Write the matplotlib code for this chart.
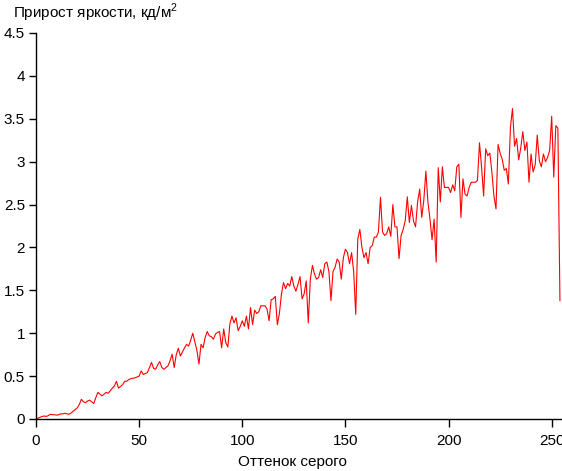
import numpy as np
import matplotlib
matplotlib.use("Agg")
import matplotlib.pyplot as plt

plt.rcParams["font.family"] = ["Liberation Sans", "DejaVu Sans"]
plt.rcParams["font.size"] = 11
plt.rcParams["mathtext.fontset"] = "custom"
plt.rcParams["mathtext.rm"] = "Liberation Sans"

# brightness increment for each gray level
gray = np.arange(0, 255)
increment = [
    0.0, 0.01, 0.02, 0.03, 0.035, 0.03, 0.04, 0.055, 0.05, 0.05,
    0.045, 0.05, 0.06, 0.06, 0.067, 0.06, 0.055, 0.07, 0.09, 0.11,
    0.13, 0.17, 0.23, 0.2, 0.19, 0.21, 0.22, 0.2, 0.18, 0.25,
    0.31, 0.29, 0.27, 0.29, 0.31, 0.3, 0.33, 0.36, 0.385, 0.44,
    0.36, 0.38, 0.4, 0.44, 0.44, 0.46, 0.47, 0.475, 0.48, 0.49,
    0.5, 0.56, 0.52, 0.53, 0.54, 0.6, 0.66, 0.59, 0.58, 0.63,
    0.67, 0.6, 0.58, 0.6, 0.62, 0.68, 0.755, 0.6, 0.75, 0.825,
    0.735, 0.78, 0.83, 0.87, 0.85, 0.92, 1.0, 0.9, 0.8, 0.64,
    0.87, 0.83, 0.95, 1.02, 0.97, 0.96, 0.93, 0.99, 1.01, 1.02,
    0.83, 1.05, 0.89, 0.84, 1.11, 1.2, 1.12, 1.18, 1.03, 1.08,
    1.145, 1.08, 1.2, 1.05, 1.3, 1.1, 1.27, 1.23, 1.25, 1.32,
    1.32, 1.32, 1.28, 1.145, 1.39, 1.4, 1.43, 1.1, 1.23, 1.46,
    1.59, 1.52, 1.58, 1.55, 1.66, 1.55, 1.49, 1.57, 1.66, 1.4,
    1.46, 1.61, 1.12, 1.63, 1.79, 1.69, 1.63, 1.65, 1.74, 1.65,
    1.81, 1.83, 1.72, 1.38, 1.72, 1.77, 1.865, 1.83, 1.63, 1.88,
    1.98, 1.94, 1.81, 1.94, 1.72, 1.22, 2.1, 2.21, 2.0, 1.88,
    1.94, 1.81, 2.0, 2.02, 2.12, 2.12, 2.18, 2.585, 2.18, 2.14,
    2.16, 2.24, 2.13, 2.5, 2.24, 2.24, 1.87, 2.14, 2.21, 2.31,
    2.59, 2.29, 2.49, 2.31, 2.24, 2.53, 2.68, 2.35, 2.55, 2.89,
    2.53, 2.33, 2.09, 2.33, 1.83, 2.93, 2.53, 2.94, 2.7, 2.7,
    2.7, 2.64, 2.73, 2.66, 2.94, 2.97, 2.35, 2.8, 2.62, 2.6,
    2.7, 2.76, 2.76, 2.76, 2.78, 3.22, 2.94, 2.6, 3.15, 3.07,
    3.1, 2.88, 2.6, 2.45, 3.2, 3.1, 3.03, 2.9, 2.92, 2.74,
    3.4, 3.62, 3.18, 3.27, 3.02, 3.16, 3.35, 3.13, 3.23, 2.76,
    3.09, 2.88, 2.96, 3.31, 3.01, 2.94, 3.09, 3.0, 3.05, 3.13,
    3.53, 2.82, 3.42, 3.39, 1.38,
]

x_ticks = [0, 50, 100, 150, 200, 250]
y_ticks = [0, 0.5, 1, 1.5, 2, 2.5, 3, 3.5, 4, 4.5]
y_labels = ["0", "0.5", "1", "1.5", "2", "2.5", "3", "3.5", "4", "4.5"]

fig = plt.figure(figsize=(5.62, 4.71), dpi=100)
ax = fig.add_axes([36 / 562, 1 - 419 / 471, 526 / 562, 386 / 471])

ax.plot(gray, increment, color="#ff0000", linewidth=0.8)

ax.set_xlim(0, 255)
ax.set_ylim(0, 4.5)
ax.set_xticks(x_ticks)
ax.set_xticklabels([str(t) for t in x_ticks])
ax.set_yticks(y_ticks)
ax.set_yticklabels(y_labels)
ax.tick_params(direction="out", width=1, colors="black", labelsize=11)
ax.tick_params(axis="x", length=6, pad=5)
ax.tick_params(axis="y", length=5, pad=3)

for side in ["top", "right"]:
    ax.spines[side].set_visible(False)
for side in ["left", "bottom"]:
    ax.spines[side].set_linewidth(1)

ax.set_xlabel("Оттенок серого", fontsize=11)
ax.xaxis.set_label_coords((292 - 36) / 526, -43 / 386)
ax.xaxis.label.set_va("center")
fig.text(13 / 562, 1 - 13 / 471, "Прирост яркости, кд/м$^{2}$", fontsize=11,
         ha="left", va="center")

fig.savefig("out.png", dpi=100)
